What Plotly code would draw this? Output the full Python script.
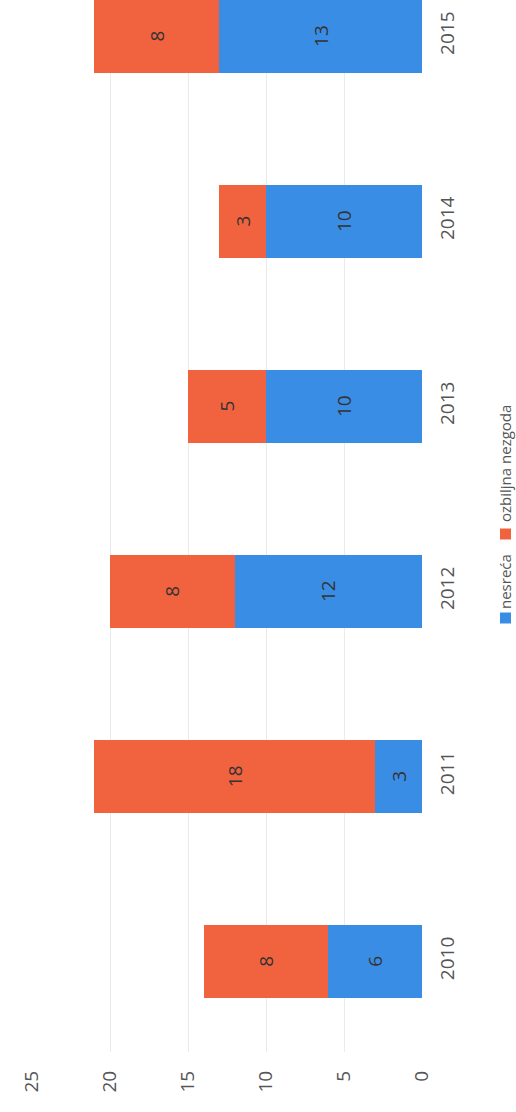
import plotly.graph_objects as go

years = ["2010", "2011", "2012", "2013", "2014", "2015"]
nesreca = [6, 3, 12, 10, 10, 13]
ozbiljna = [8, 18, 8, 5, 3, 8]
value_ticks = [0, 5, 10, 15, 20, 25]

BLUE = "#3A8DE4"
RED = "#F1623F"
TXT = "#555555"
FONT = "Open Sans"

fig = go.Figure()
fig.add_trace(go.Bar(
    y=years, x=nesreca, orientation="h", name="nesreća",
    marker=dict(color=BLUE, line=dict(width=0)),
    text=[str(v) for v in nesreca], textposition="inside",
    insidetextanchor="middle", textangle=-90, constraintext="none",
    textfont=dict(family=FONT, size=19, color="#333333"),
))
fig.add_trace(go.Bar(
    y=years, x=ozbiljna, orientation="h", name="ozbiljna nezgoda",
    marker=dict(color=RED, line=dict(width=0)),
    text=[str(v) for v in ozbiljna], textposition="inside",
    insidetextanchor="middle", textangle=-90, constraintext="none",
    textfont=dict(family=FONT, size=19, color="#333333"),
))

fig.update_layout(
    width=516, height=1112,
    margin=dict(l=32, r=94, t=0, b=60, autoexpand=False),
    barmode="stack", bargap=0.605,
    showlegend=False,
    plot_bgcolor="white", paper_bgcolor="white",
    font=dict(family=FONT, size=19, color=TXT),
    xaxis=dict(
        range=[25, 0], tickvals=value_ticks, ticktext=[str(v) for v in value_ticks],
        tickangle=-90, showgrid=True, gridcolor="#ebebeb", gridwidth=1,
        zeroline=False, showline=False, ticks="", ticklabelstandoff=14,
        automargin=False,
        tickfont=dict(family=FONT, size=19, color=TXT),
    ),
    yaxis=dict(
        type="category", categoryorder="array", categoryarray=years,
        range=[-0.49, 5.195], side="right", tickangle=-90,
        showgrid=False, zeroline=False, showline=False, ticks="",
        ticklabelstandoff=12, automargin=False,
        tickfont=dict(family=FONT, size=19, color=TXT),
    ),
)

# rotated legend (as in the scanned, rotated original)
def px_to_paper(xp, yp):
    return (xp - 32) / 390.0, (1052 - yp) / 1052.0

legend_items = [("nesreća", BLUE, 618, 581), ("ozbiljna nezgoda", RED, 534, 463)]
for label, col, sq_y, txt_y in legend_items:
    x0, y0 = px_to_paper(500, sq_y + 5.5)
    x1, y1 = px_to_paper(511, sq_y - 5.5)
    fig.add_shape(type="rect", xref="paper", yref="paper", x0=x0, x1=x1, y0=y0, y1=y1,
                  fillcolor=col, line=dict(width=0))
    tx, ty = px_to_paper(505, txt_y)
    fig.add_annotation(xref="paper", yref="paper", x=tx, y=ty, text=label, textangle=-90,
                       showarrow=False, xanchor="center", yanchor="middle",
                       font=dict(family=FONT, size=15, color=TXT))

fig.write_html("out.html", config={"displayModeBar": False},
               post_script="document.body.style.margin='0px';document.body.style.overflow='hidden';")
